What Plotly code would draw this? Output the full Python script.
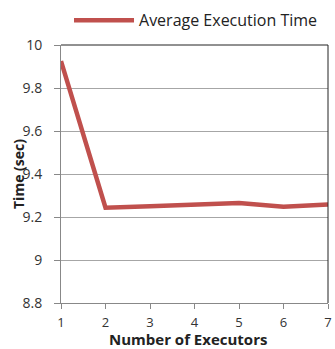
import plotly.graph_objects as go

executors = [1, 2, 3, 4, 5, 6, 7]
avg_time = [9.925, 9.243, 9.25, 9.258, 9.265, 9.248, 9.258]
y_ticks = [8.8, 9, 9.2, 9.4, 9.6, 9.8, 10]
y_tick_text = ["8.8", "9", "9.2", "9.4", "9.6", "9.8", "10"]

FONT = "Open Sans"
RED = "#C0504D"

fig = go.Figure()
fig.add_trace(go.Scatter(
    x=executors, y=avg_time, mode="lines",
    name="Average Execution Time",
    line=dict(color=RED, width=4.5),
))

fig.update_layout(
    width=335, height=349,
    margin=dict(l=61, r=3, t=37, b=46),
    paper_bgcolor="white", plot_bgcolor="white",
    font=dict(family=FONT, size=14, color="#333333"),
    showlegend=True,
    legend=dict(orientation="h", x=0.03, xanchor="left", y=1.03, yanchor="bottom",
                font=dict(family=FONT, size=16, color="#222222"),
                bgcolor="rgba(0,0,0,0)", itemwidth=60,
                tracegroupgap=0),
    xaxis=dict(range=[1, 7], tickvals=executors, showgrid=False, zeroline=False,
               showline=True, linecolor="#888888", linewidth=1,
               ticks="outside", ticklen=5, tickcolor="#888888",
               tickfont=dict(size=13, color="#333333"),
               ticklabeloverflow="allow", ticklabelstandoff=2),
    yaxis=dict(range=[8.8, 10], tickvals=y_ticks, ticktext=y_tick_text,
               showgrid=True, gridcolor="#A6A6A6", gridwidth=1, zeroline=False,
               showline=True, linecolor="#888888", linewidth=1,
               ticks="outside", ticklen=6, tickcolor="#888888",
               tickfont=dict(size=14, color="#333333"),
               ticklabelstandoff=9),
    shapes=[
        dict(type="line", xref="paper", yref="paper", x0=0, x1=1, y0=1, y1=1,
             line=dict(color="#222222", width=1)),
        dict(type="line", xref="paper", yref="paper", x0=1, x1=1, y0=0, y1=1,
             line=dict(color="#222222", width=1)),
    ],
    annotations=[
        dict(text="<b>Time (sec)</b>", xref="paper", yref="paper", x=0, y=0.5,
             xanchor="center", yanchor="middle", xshift=-43, textangle=-90,
             showarrow=False, font=dict(family=FONT, size=14, color="#222222")),
        dict(text="<b>Number of Executors</b>", xref="paper", yref="paper",
             x=0.5, y=0, xanchor="center", yanchor="middle", yshift=-36,
             xshift=-7, showarrow=False,
             font=dict(family=FONT, size=15, color="#222222")),
    ],
)

fig.write_html("out.html")
